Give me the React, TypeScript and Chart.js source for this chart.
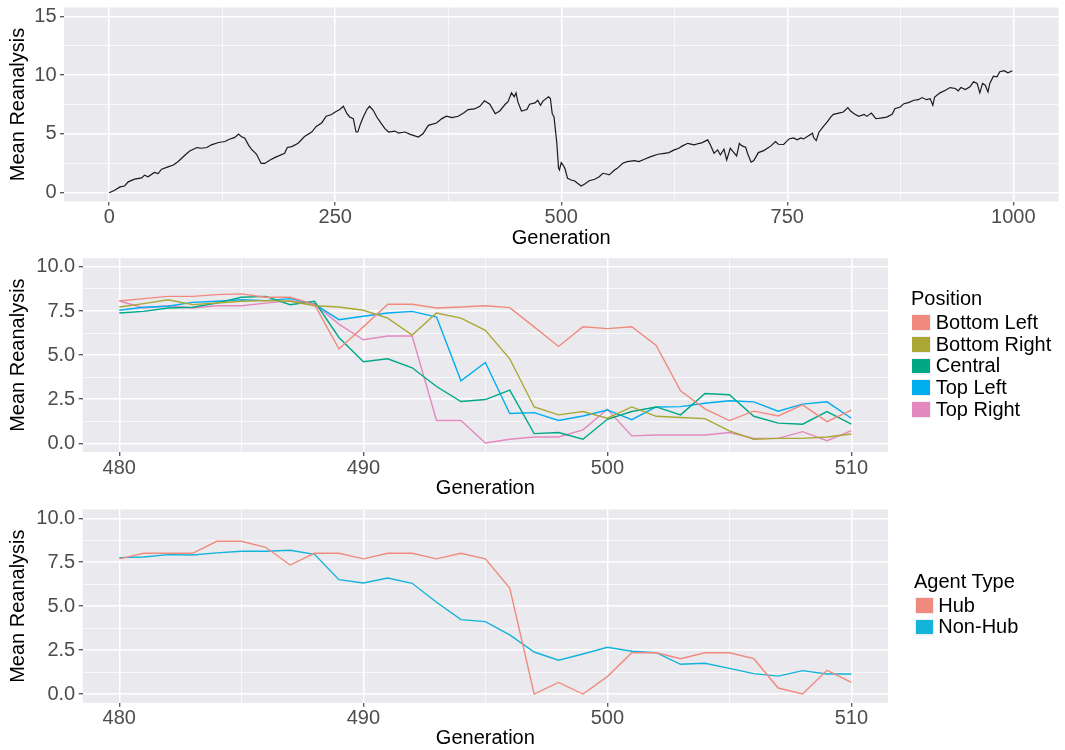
import React, { useEffect, useRef } from 'react';
import { Chart, registerables } from 'chart.js';

Chart.register(...registerables);

const FONT = '"Liberation Sans", Arial, Helvetica, sans-serif';

// ---------- Overview panel (generation 0..1000) ----------
const overviewGeneration = [
  0, 6, 12, 17, 21, 28, 36, 39, 43, 50, 54, 58, 65, 71, 76, 84, 89, 97, 102, 108, 113, 121, 128, 133, 139, 143, 146, 150,
  154, 157, 163, 168, 172, 178, 183, 194, 197, 202, 209, 216, 224, 229, 235, 240, 246, 250, 255, 259, 263, 266, 270, 273,
  275, 278, 281, 285, 288, 292, 296, 301, 305, 309, 316, 320, 327, 333, 342, 347, 353, 362, 368, 373, 379, 386, 392, 397,
  404, 410, 415, 421, 427, 432, 438, 441, 445, 448, 450, 452, 456, 462, 465, 471, 474, 477, 480, 486, 488, 490, 492, 495,
  497, 498, 500, 502, 504, 507, 511, 515, 518, 522, 526, 531, 537, 542, 546, 550, 553, 559, 562, 568, 573, 581, 586, 592,
  599, 607, 614, 619, 625, 630, 634, 640, 647, 653, 656, 662, 665, 669, 673, 676, 680, 683, 687, 690, 694, 697, 700, 704,
  706, 710, 713, 718, 724, 732, 737, 740, 746, 752, 757, 761, 765, 768, 774, 778, 779, 782, 785, 790, 794, 798, 801, 807,
  812, 817, 820, 824, 829, 835, 838, 843, 848, 855, 860, 866, 869, 875, 879, 884, 890, 895, 899, 904, 908, 911, 913, 919,
  925, 930, 936, 939, 942, 947, 952, 956, 960, 963, 966, 969, 972, 974, 978, 982, 985, 990, 994, 999,
];
const overviewMean = [
  0.0, 0.2, 0.49, 0.57, 0.92, 1.15, 1.26, 1.49, 1.35, 1.72, 1.63, 2.0, 2.2, 2.35, 2.63, 3.21, 3.55, 3.84, 3.78, 3.84, 4.07,
  4.27, 4.35, 4.55, 4.7, 4.98, 4.78, 4.64, 4.07, 3.72, 3.26, 2.49, 2.49, 2.78, 2.98, 3.35, 3.84, 3.92, 4.21, 4.78, 5.15,
  5.64, 5.93, 6.5, 6.65, 6.87, 7.07, 7.35, 6.72, 6.44, 6.3, 5.16, 5.16, 5.87, 6.44, 7.07, 7.35, 7.01, 6.44, 5.87, 5.44,
  5.16, 5.24, 5.07, 5.16, 4.96, 4.73, 5.01, 5.73, 5.93, 6.3, 6.5, 6.38, 6.5, 6.78, 7.07, 7.12, 7.35, 7.81, 7.52, 6.72,
  6.95, 7.52, 7.72, 8.49, 8.15, 8.49, 7.72, 6.95, 7.07, 7.52, 7.64, 7.86, 7.44, 7.81, 8.15, 8.01, 6.72, 6.44, 4.3, 2.1,
  1.93, 2.55, 2.35, 2.07, 1.22, 1.08, 0.99, 0.8, 0.57, 0.74, 1.02, 1.14, 1.36, 1.65, 1.59, 1.51, 1.93, 2.07, 2.5, 2.64,
  2.73, 2.64, 2.84, 3.07, 3.27, 3.35, 3.41, 3.64, 3.78, 3.98, 4.2, 4.06, 4.2, 4.26, 4.49, 4.06, 3.35, 3.64, 3.21, 3.69,
  2.78, 3.78, 3.49, 3.13, 4.2, 3.98, 3.86, 3.35, 2.59, 2.73, 3.41, 3.58, 3.98, 4.35, 4.12, 4.1, 4.57, 4.66, 4.49, 4.66,
  4.57, 4.86, 5.06, 4.71, 4.43, 5.14, 5.63, 6.0, 6.43, 6.66, 6.77, 6.86, 7.23, 6.94, 6.71, 6.49, 6.66, 6.49, 6.77, 6.29,
  6.37, 6.43, 6.66, 7.14, 7.29, 7.57, 7.66, 7.86, 7.91, 8.09, 7.91, 8.0, 7.43, 8.14, 8.49, 8.71, 8.94, 8.86, 8.66, 8.94,
  8.77, 9.0, 9.43, 9.29, 8.49, 9.29, 9.14, 8.57, 9.29, 9.91, 9.86, 10.29, 10.37, 10.2, 10.37,
];

// ---------- Window panels (generation 480..510) ----------
const windowGenerations = [
  480, 481, 482, 483, 484, 485, 486, 487, 488, 489, 490, 491, 492, 493, 494, 495, 496, 497, 498, 499, 500, 501, 502, 503,
  504, 505, 506, 507, 508, 509, 510,
];
const bottomLeft = [
  8.07, 8.2, 8.33, 8.33, 8.43, 8.47, 8.28, 8.28, 7.86, 5.35, 6.6, 7.88, 7.88, 7.67, 7.73, 7.8, 7.69, 6.6, 5.49, 6.61, 6.5,
  6.61, 5.55, 2.97, 1.95, 1.29, 1.82, 1.55, 2.18, 1.23, 1.88,
];
const bottomRight = [
  7.73, 7.92, 8.14, 7.86, 7.95, 8.05, 8.09, 8.05, 7.8, 7.73, 7.54, 7.1, 6.14, 7.39, 7.1, 6.4, 4.79, 2.06, 1.61, 1.8, 1.42,
  2.06, 1.53, 1.46, 1.4, 0.7, 0.23, 0.28, 0.28, 0.36, 0.53,
];
const central = [
  7.39, 7.48, 7.67, 7.71, 7.95, 8.28, 8.33, 7.86, 8.05, 6.0, 4.62, 4.79, 4.28, 3.22, 2.37, 2.48, 3.01, 0.55, 0.61, 0.23,
  1.36, 1.8, 2.06, 1.61, 2.82, 2.75, 1.53, 1.14, 1.08, 1.8, 1.08,
];
const topLeft = [
  7.54, 7.71, 7.77, 7.99, 8.05, 8.14, 8.09, 8.2, 7.9, 7.01, 7.2, 7.39, 7.48, 7.16, 3.54, 4.58, 1.69, 1.74, 1.29, 1.55,
  1.89, 1.34, 2.06, 2.08, 2.27, 2.41, 2.35, 1.82, 2.22, 2.35, 1.42,
];
const topRight = [
  8.07, 7.67, 7.8, 7.67, 7.8, 7.8, 7.95, 8.09, 7.9, 6.76, 5.87, 6.08, 6.08, 1.29, 1.29, 0.02, 0.23, 0.36, 0.36, 0.76, 1.93,
  0.42, 0.47, 0.47, 0.47, 0.61, 0.28, 0.28, 0.66, 0.15, 0.72,
];
const hub = [
  7.69, 8.01, 8.01, 8.01, 8.69, 8.69, 8.35, 7.34, 8.01, 8.01, 7.69, 8.01, 8.01, 7.69, 8.01, 7.69, 6.03, 0.0, 0.66, 0.0,
  0.99, 2.35, 2.35, 2.01, 2.35, 2.35, 2.01, 0.34, 0.0, 1.35, 0.66,
];
const nonHub = [
  7.76, 7.8, 7.93, 7.91, 8.03, 8.12, 8.12, 8.18, 7.95, 6.51, 6.32, 6.6, 6.3, 5.22, 4.23, 4.12, 3.36, 2.39, 1.92, 2.28,
  2.66, 2.43, 2.35, 1.69, 1.75, 1.46, 1.16, 1.02, 1.33, 1.14, 1.14,
];

const positionNames = ['Bottom Left', 'Bottom Right', 'Central', 'Top Left', 'Top Right'];
const positionColors = ['#F08A7E', '#ABA735', '#00A886', '#00AEEF', '#E488C0'];
const agentNames = ['Hub', 'Non-Hub'];
const agentColors = ['#F08A7E', '#14B3DA'];

// tick values
const overviewXMajor = [0, 250, 500, 750, 1000];
const overviewXMinor = [125, 375, 625, 875];
const overviewYMajor = [0, 5, 10, 15];
const overviewYMinor = [2.5, 7.5, 12.5];
const windowXMajor = [480, 490, 500, 510];
const windowXMinor = [485, 495, 505];
const windowYMajor = [0, 2.5, 5, 7.5, 10];
const windowYMinor = [1.25, 3.75, 6.25, 8.75];

const W = 1065;
const H = 250;
const PANEL_BG = '#EAEAEE';

const panelBg = {
  id: 'panelBg',
  beforeDraw(chart: any) {
    const { ctx, chartArea: a } = chart;
    ctx.save();
    ctx.fillStyle = PANEL_BG;
    ctx.fillRect(a.left, a.top, a.right - a.left, a.bottom - a.top);
    ctx.restore();
  },
};

function axis(
  min: number,
  max: number,
  major: number[],
  minor: number[],
  fmt: (v: number) => string,
  isX: boolean,
  size: number,
  title: string
) {
  const all = [...major, ...minor].sort((a, b) => a - b);
  const isMajor = (v: number) => major.some((m) => Math.abs(m - v) < 1e-9);
  return {
    type: 'linear',
    min,
    max,
    bounds: 'data',
    afterBuildTicks: (s: any) => {
      s.ticks = all.map((v) => ({ value: v }));
    },
    afterFit: (s: any) => {
      if (isX) {
        s.height = size;
        s.paddingLeft = 0;
        s.paddingRight = 0;
      } else {
        s.width = size;
        s.paddingTop = 0;
        s.paddingBottom = 0;
      }
    },
    border: { display: false },
    grid: {
      color: '#FFFFFF',
      lineWidth: (c: any) => (c.tick && isMajor(c.tick.value) ? 1.5 : 0.7),
      drawTicks: true,
      tickLength: 4,
      tickWidth: 1.1,
      tickColor: (c: any) => (c.tick && isMajor(c.tick.value) ? '#333333' : 'rgba(0,0,0,0)'),
    },
    ticks: {
      autoSkip: false,
      maxRotation: 0,
      minRotation: 0,
      color: '#4D4D4D',
      font: { family: FONT, size: 20 },
      padding: isX ? 0 : 3.5,
      callback: (v: any) => (isMajor(Number(v)) ? fmt(Number(v)) : ''),
    },
    title: {
      display: true,
      text: title,
      color: '#000000',
      font: { family: FONT, size: 20 },
      padding: isX ? { top: 0, bottom: 0 } : { top: 6, bottom: 0 },
    },
  };
}

type Spec = {
  chartLeft: number;
  chartRight: number;
  chartTop: number;
  chartBottom: number;
  xMin: number;
  xMax: number;
  xMajor: number[];
  xMinor: number[];
  yMin: number;
  yMax: number;
  yMajor: number[];
  yMinor: number[];
  yFmt: (v: number) => string;
  datasets: any[];
};

function buildConfig(s: Spec): any {
  return {
    type: 'line',
    data: { datasets: s.datasets },
    options: {
      animation: false,
      responsive: false,
      layout: { padding: { left: 0, top: s.chartTop, right: W - s.chartRight, bottom: 0 } },
      plugins: { legend: { display: false }, tooltip: { enabled: false } },
      elements: { point: { radius: 0 }, line: { tension: 0, borderWidth: 1.3 } },
      scales: {
        x: axis(s.xMin, s.xMax, s.xMajor, s.xMinor, (v) => String(v), true, H - s.chartBottom, 'Generation'),
        y: axis(s.yMin, s.yMax, s.yMajor, s.yMinor, s.yFmt, false, s.chartLeft, 'Mean Reanalysis'),
      },
    },
    plugins: [panelBg],
  };
}

const toPoints = (xs: number[], ys: number[]) => xs.map((x, i) => ({ x, y: ys[i] }));

function Panel({ top, spec }: { top: number; spec: () => Spec }) {
  const ref = useRef<HTMLCanvasElement>(null);
  useEffect(() => {
    const chart = new Chart(ref.current as HTMLCanvasElement, buildConfig(spec()));
    return () => chart.destroy();
  }, []);
  return (
    <div style={{ position: 'absolute', left: 0, top, width: W, height: H }}>
      <canvas ref={ref} width={W} height={H} style={{ width: W, height: H, display: 'block' }} />
    </div>
  );
}

function Legend({
  title,
  titleLeft,
  titleTop,
  keyLeft,
  textLeft,
  firstCenter,
  step,
  names,
  colors,
}: {
  title: string;
  titleLeft: number;
  titleTop: number;
  keyLeft: number;
  textLeft: number;
  firstCenter: number;
  step: number;
  names: string[];
  colors: string[];
}) {
  const text: React.CSSProperties = { fontFamily: FONT, fontSize: 20, color: '#000000', whiteSpace: 'nowrap' };
  return (
    <>
      <div style={{ ...text, position: 'absolute', left: titleLeft, top: titleTop, lineHeight: '24px' }}>{title}</div>
      {names.map((n, i) => (
        <div
          key={n}
          style={{
            position: 'absolute',
            left: keyLeft,
            top: firstCenter + i * step - step / 2,
            height: step,
            display: 'flex',
            alignItems: 'center',
          }}
        >
          <div
            style={{
              width: 19,
              height: 17,
              background: '#F0F0F3',
              display: 'flex',
              alignItems: 'center',
              justifyContent: 'center',
            }}
          >
            <div style={{ width: 17.5, height: 14.5, background: colors[i] }} />
          </div>
          <div style={{ ...text, marginLeft: textLeft - keyLeft - 19, lineHeight: `${step}px` }}>{n}</div>
        </div>
      ))}
    </>
  );
}

export default function App() {
  const overview = (): Spec => ({
    chartLeft: 64,
    chartRight: 1058.5,
    chartTop: 7.5,
    chartBottom: 201.5,
    xMin: -50,
    xMax: 1050,
    xMajor: overviewXMajor,
    xMinor: overviewXMinor,
    yMin: -0.75,
    yMax: 15.75,
    yMajor: overviewYMajor,
    yMinor: overviewYMinor,
    yFmt: (v) => String(v),
    datasets: [
      {
        label: 'Mean',
        data: toPoints(overviewGeneration, overviewMean),
        borderColor: '#1A1A1A',
        borderWidth: 1.2,
      },
    ],
  });
  const positions = (): Spec => ({
    chartLeft: 82.7,
    chartRight: 888,
    chartTop: 8.1,
    chartBottom: 202.1,
    xMin: 478.5,
    xMax: 511.5,
    xMajor: windowXMajor,
    xMinor: windowXMinor,
    yMin: -0.5,
    yMax: 10.5,
    yMajor: windowYMajor,
    yMinor: windowYMinor,
    yFmt: (v) => v.toFixed(1),
    datasets: [bottomLeft, bottomRight, central, topLeft, topRight].map((arr, i) => ({
      label: positionNames[i],
      data: toPoints(windowGenerations, arr),
      borderColor: positionColors[i],
      borderWidth: 1.4,
    })),
  });
  const agents = (): Spec => ({
    chartLeft: 82.7,
    chartRight: 888,
    chartTop: 9.5,
    chartBottom: 202.8,
    xMin: 478.5,
    xMax: 511.5,
    xMajor: windowXMajor,
    xMinor: windowXMinor,
    yMin: -0.5,
    yMax: 10.5,
    yMajor: windowYMajor,
    yMinor: windowYMinor,
    yFmt: (v) => v.toFixed(1),
    datasets: [hub, nonHub].map((arr, i) => ({
      label: agentNames[i],
      data: toPoints(windowGenerations, arr),
      borderColor: agentColors[i],
      borderWidth: 1.4,
    })),
  });

  return (
    <div style={{ position: 'absolute', left: 0, top: 0, width: W, height: 750, background: '#FFFFFF' }}>
      <Panel top={0} spec={overview} />
      <Panel top={250} spec={positions} />
      <Panel top={500} spec={agents} />
      <Legend
        title="Position"
        titleLeft={911}
        titleTop={286}
        keyLeft={911.5}
        textLeft={935.7}
        firstCenter={322.7}
        step={21.67}
        names={positionNames}
        colors={positionColors}
      />
      <Legend
        title="Agent Type"
        titleLeft={914}
        titleTop={569.4}
        keyLeft={915}
        textLeft={938.3}
        firstCenter={605.5}
        step={21.7}
        names={agentNames}
        colors={agentColors}
      />
    </div>
  );
}
